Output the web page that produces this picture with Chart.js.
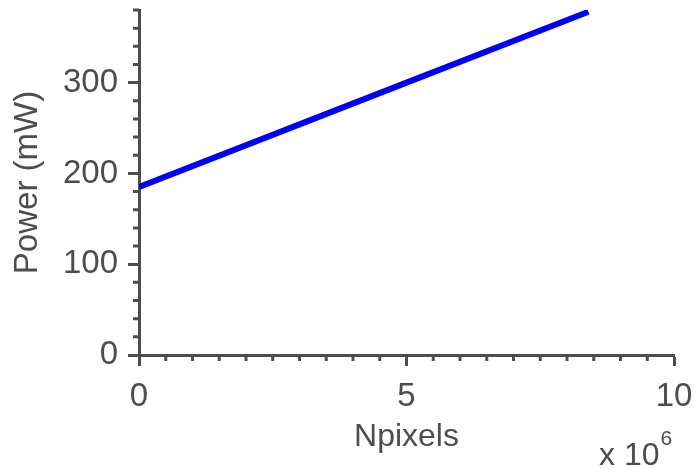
<!DOCTYPE html>
<html>
<head>
<meta charset="utf-8">
<script src="https://cdn.jsdelivr.net/npm/chart.js@4"></script>
<style>
  body { margin: 0; background: #fff; }
  canvas { display: block; }
</style>
</head>
<body>
<canvas id="powerChart" width="695" height="468"></canvas>
<script>
// values (x in units of 1e6 pixels)
const npixels = [0, 5, 8.4];
const powerMw = [185, 300, 378];
const xTickLabels = [0, 5, 10];
const yTickLabels = [0, 100, 200, 300];

const AXIS = "#4d4d4d";
const FONT = "'Liberation Sans', Arial, sans-serif";

// short ticks between the labelled ones, drawn on the library's scales
const minorTicks = {
  id: "minorTicks",
  afterDraw(chart) {
    const ctx = chart.ctx;
    const x = chart.scales.x;
    const y = chart.scales.y;
    ctx.save();
    ctx.strokeStyle = AXIS;
    ctx.lineWidth = 3;
    ctx.beginPath();
    for (let v = 0; v <= 10.001; v += 0.5) {
      if (xTickLabels.includes(v)) continue;
      const px = x.getPixelForValue(v);
      ctx.moveTo(px, x.top);
      ctx.lineTo(px, x.top + 6);
    }
    for (let v = 0; v <= 380; v += 20) {
      if (yTickLabels.includes(v)) continue;
      const py = y.getPixelForValue(v);
      ctx.moveTo(y.right, py);
      ctx.lineTo(y.right - 6, py);
    }
    ctx.stroke();

    // exponent label
    ctx.fillStyle = AXIS;
    ctx.textBaseline = "alphabetic";
    ctx.font = "32px " + FONT;
    ctx.fillText("x 10", 599, 465);
    const w = ctx.measureText("x 10").width;
    ctx.font = "21px " + FONT;
    ctx.fillText("6", 599 + w + 1, 445);
    ctx.restore();
  }
};

new Chart(document.getElementById("powerChart").getContext("2d"), {
  type: "scatter",
  data: {
    datasets: [
      {
        data: npixels.map((v, i) => ({ x: v, y: powerMw[i] })),
        showLine: true,
        borderColor: "#0000ff",
        borderWidth: 6,
        pointRadius: 0,
        fill: false
      }
    ]
  },
  options: {
    responsive: false,
    animation: false,
    layout: { padding: { top: 10, right: 21, left: 0, bottom: 0 } },
    plugins: { legend: { display: false }, tooltip: { enabled: false } },
    scales: {
      x: {
        type: "linear",
        min: 0,
        max: 10,
        afterFit: s => { s.height = 113; s.paddingLeft = 0; s.paddingRight = 0; },
        afterBuildTicks: s => { s.ticks = xTickLabels.map(v => ({ value: v })); },
        ticks: { color: AXIS, font: { family: FONT, size: 33 }, padding: 11, maxRotation: 0 },
        grid: { drawOnChartArea: false, tickLength: 11, tickWidth: 3, tickColor: AXIS },
        border: { color: AXIS, width: 3 },
        title: {
          display: true,
          text: "Npixels",
          color: AXIS,
          font: { family: FONT, size: 32 },
          padding: { top: 0, bottom: 12 }
        }
      },
      y: {
        type: "linear",
        min: 0,
        max: 380,
        afterFit: s => { s.width = 139; s.paddingTop = 0; s.paddingBottom = 0; },
        afterBuildTicks: s => { s.ticks = yTickLabels.map(v => ({ value: v })); },
        ticks: { color: AXIS, font: { family: FONT, size: 33 }, padding: 10 },
        grid: { drawOnChartArea: false, tickLength: 11, tickWidth: 3, tickColor: AXIS },
        border: { color: AXIS, width: 3 },
        title: {
          display: true,
          text: "Power (mW)",
          color: AXIS,
          font: { family: FONT, size: 33 },
          padding: { top: 8, bottom: 0 }
        }
      }
    }
  },
  plugins: [minorTicks]
});
</script>
</body>
</html>
